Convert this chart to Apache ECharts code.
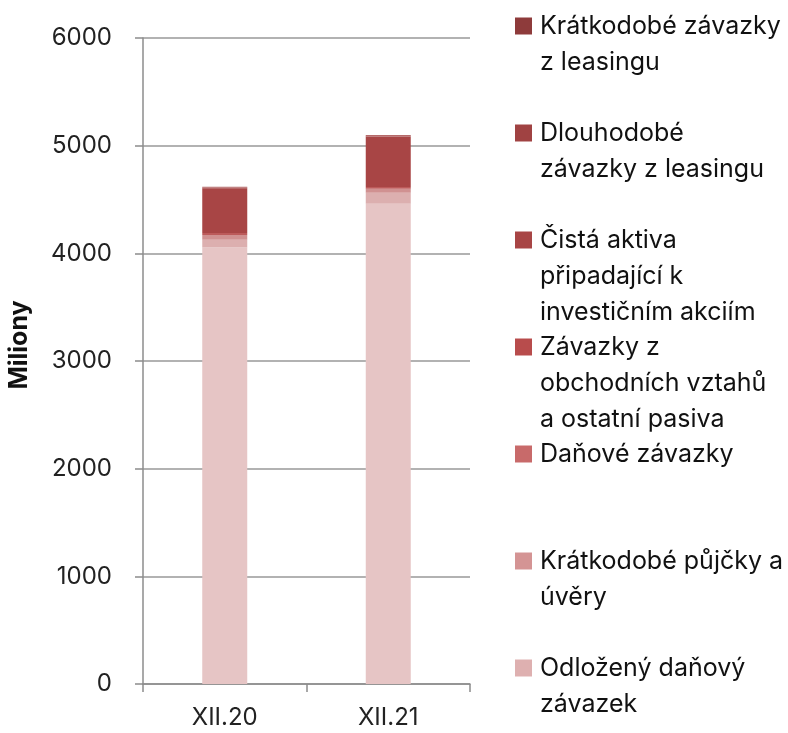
<!DOCTYPE html>
<html><head><meta charset="utf-8">
<script src="https://cdn.jsdelivr.net/npm/echarts@6/dist/echarts.min.js"></script>
<style>html,body{margin:0;padding:0;background:#fff}#c{width:788px;height:733px}</style>
</head><body><div id="c"></div>
<script>
var categories = ['XII.20', 'XII.21'];
var seriesNames = [
  'Odložený daňový závazek',
  'Krátkodobé půjčky a úvěry',
  'Daňové závazky',
  'Závazky z obchodních vztahů a ostatní pasiva',
  'Čistá aktiva připadající k investičním akciím',
  'Dlouhodobé závazky z leasingu',
  'Krátkodobé závazky z leasingu'
];
var legendLabels = [
  'Odložený daňový\nzávazek',
  'Krátkodobé půjčky a\núvěry',
  'Daňové závazky',
  'Závazky z\nobchodních vztahů\na ostatní pasiva',
  'Čistá aktiva\npřipadající k\ninvestičním akciím',
  'Dlouhodobé\nzávazky z leasingu',
  'Krátkodobé závazky\nz leasingu'
];
var odlozeny = [4055, 4460];
var kratkodobePujcky = [71, 102];
var danove = [44, 37];
var zavazkyObchodni = [20, 16];
var cistaAktiva = [414, 468];
var dlouhodobyLeasing = [5, 5];
var kratkodobyLeasing = [10, 12];
var yTicks = [0, 1000, 2000, 3000, 4000, 5000, 6000];

var values = [odlozeny, kratkodobePujcky, danove, zavazkyObchodni, cistaAktiva, dlouhodobyLeasing, kratkodobyLeasing];
var barColors = ['#E6C5C5', '#DCAFAF', '#D09191', '#BC5A5A', '#A84545', '#A34343', '#B56A6A'];
var legendColors = ['#DEB0B0', '#D49494', '#C86A6A', '#B84C4C', '#A84545', '#A04242', '#8E3B3B'];
var markerCenters = [668, 561, 454, 347, 240, 133, 26];
var LH = 36;
var FONT = 'Inter';

var series = seriesNames.map(function (n, i) {
  return {
    name: n, type: 'bar', stack: 'total', data: values[i], barWidth: 45,
    itemStyle: { color: barColors[i] }
  };
});

var legends = seriesNames.map(function (n, i) {
  var lines = legendLabels[i].split('\n');
  var k = lines.length;
  var boxH = (2 * k - 1) * LH;
  var pre = [];
  for (var j = 0; j < k - 1; j++) pre.push(' ');
  var txt = pre.concat(lines).join('\n');
  return {
    left: 515, top: markerCenters[i] - boxH / 2, padding: 0,
    orient: 'vertical', icon: 'rect', itemWidth: 17, itemHeight: 17, itemGap: 0,
    selectedMode: false,
    data: [{ name: n, itemStyle: { color: legendColors[i] } }],
    formatter: function () { return txt; },
    textStyle: { fontFamily: FONT, fontSize: 25, color: '#111', lineHeight: LH, padding: [0, 0, 0, 3] }
  };
});

var chart = echarts.init(document.getElementById('c'));
chart.setOption({
  animation: false,
  backgroundColor: '#fff',
  grid: { left: 143, top: 38, right: 318, bottom: 49, containLabel: false },
  legend: legends,
  xAxis: {
    type: 'category', data: categories,
    axisLine: { lineStyle: { color: '#8c8c8c', width: 1.5 } },
    axisTick: { show: true, length: 8, lineStyle: { color: '#8c8c8c', width: 1.5 } },
    axisLabel: { fontFamily: FONT, fontSize: 24, color: '#222', margin: 22 }
  },
  yAxis: {
    type: 'value', min: yTicks[0], max: yTicks[yTicks.length - 1], interval: 1000,
    name: 'Miliony', nameLocation: 'middle', nameGap: 111,
    nameTextStyle: { fontFamily: FONT, fontSize: 25, fontWeight: 'bold', color: '#111', padding: [0, 0, 0, 32] },
    axisLine: { show: true, lineStyle: { color: '#8c8c8c', width: 1.5 } },
    axisTick: { show: true, length: 8, lineStyle: { color: '#8c8c8c', width: 1.5 } },
    splitLine: { lineStyle: { color: '#999', width: 1.5 } },
    axisLabel: { fontFamily: FONT, fontSize: 24, color: '#222', margin: 31, formatter: function (v) { return String(v); } }
  },
  series: series
});
</script></body></html>
